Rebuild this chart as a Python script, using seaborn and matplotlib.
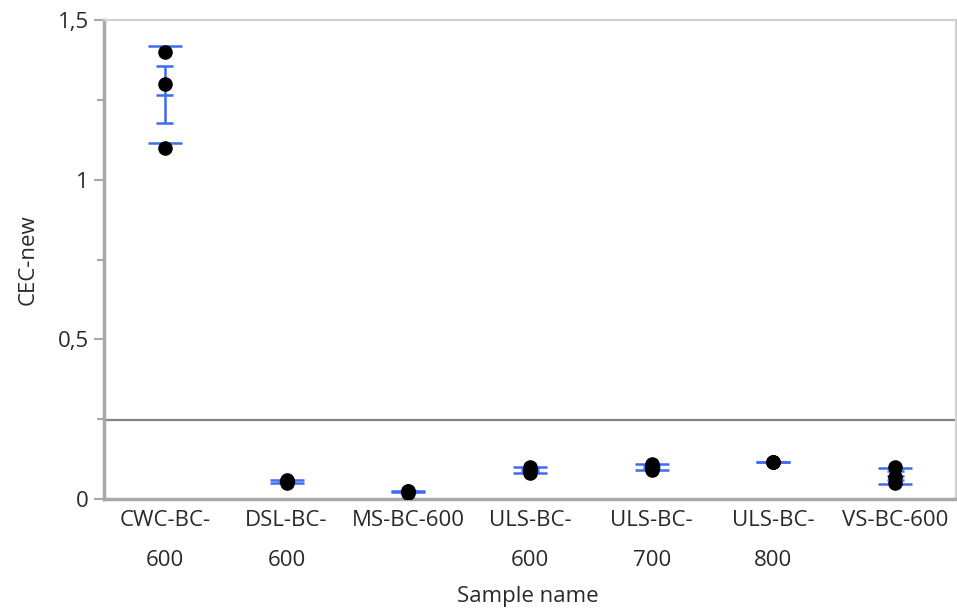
import numpy as np
import pandas as pd
import matplotlib
matplotlib.use("Agg")
import matplotlib.pyplot as plt
import seaborn as sns

categories = ["CWC-BC-600", "DSL-BC-600", "MS-BC-600", "ULS-BC-600",
              "ULS-BC-700", "ULS-BC-800", "VS-BC-600"]
tick_labels = ["CWC-BC-\n600", "DSL-BC-\n600", "MS-BC-600", "ULS-BC-\n600",
               "ULS-BC-\n700", "ULS-BC-\n800", "VS-BC-600"]
cwc = [1.40, 1.30, 1.10]
dsl = [0.050, 0.055, 0.060]
ms = [0.020, 0.025, 0.025]
uls600 = [0.080, 0.090, 0.100]
uls700 = [0.090, 0.100, 0.110]
uls800 = [0.117, 0.117, 0.117]
vs = [0.050, 0.070, 0.100]

groups = [cwc, dsl, ms, uls600, uls700, uls800, vs]
rows = []
for c, vals in zip(categories, groups):
    for v in vals:
        rows.append({"Sample name": c, "CEC-new": v})
df = pd.DataFrame(rows)

sns.set_theme(style="white")
plt.rcParams["font.family"] = ["Open Sans", "DejaVu Sans"]

fig = plt.figure(figsize=(9.57, 6.12), dpi=100)
ax = fig.add_axes([104 / 957, 1 - 499 / 612, (956 - 104) / 957, (499 - 20) / 612])

blue = "#3d6cf0"
stats = df.groupby("Sample name", sort=False)["CEC-new"].agg(["mean", "std", "count"])
stats = stats.reindex(categories)
stats["std"] = stats["std"].fillna(0)
stats["se"] = stats["std"] / np.sqrt(stats["count"])

x = np.arange(len(categories))
hw = 0.14
for i, (m, sd, se) in enumerate(zip(stats["mean"], stats["std"], stats["se"])):
    # std dev lines
    ax.hlines([m - sd, m + sd], i - hw, i + hw, color=blue, lw=1.8, zorder=2)
    # mean error bar
    ax.vlines(i, m - se, m + se, color=blue, lw=1.8, zorder=2)
    ax.hlines([m - se, m, m + se], i - hw * 0.5, i + hw * 0.5, color=blue, lw=1.8, zorder=2)

# grand mean line
ax.axhline(df["CEC-new"].mean(), color="#858585", lw=1.6, zorder=1)

sns.stripplot(data=df, x="Sample name", y="CEC-new", order=categories,
              jitter=False, color="black", size=10.5, ax=ax, zorder=3)

ax.set_xlim(-0.5, len(categories) - 0.5)
ax.set_ylim(0, 1.5)
ax.set_yticks([0, 0.5, 1.0, 1.5])
ax.set_yticklabels(["0", "0,5", "1", "1,5"])
ax.set_yticks([0.25, 0.75, 1.25], minor=True)
ax.set_xticks(x)
ax.set_xticklabels(tick_labels, linespacing=2.2)
ax.set_xticks(np.arange(len(categories) + 1) - 0.5, minor=True)

text_col = "#2a2a2a"
fs = 16
ax.tick_params(axis="x", which="major", length=0, pad=8, labelsize=fs, labelcolor=text_col)
ax.tick_params(axis="x", which="minor", length=9, width=2, color="#a8a8a8", direction="out")
ax.tick_params(axis="y", which="major", length=7, width=1.5, color="#a8a8a8",
               labelsize=fs, labelcolor=text_col, left=True, direction="out", pad=4)
ax.tick_params(axis="y", which="minor", length=5, width=1.5, color="#a8a8a8", left=True, direction="out")

for s in ["left", "bottom"]:
    ax.spines[s].set_color("#a8a8a8")
    ax.spines[s].set_linewidth(2.5)
for s in ["top", "right"]:
    ax.spines[s].set_color("#d0d0d0")
    ax.spines[s].set_linewidth(1.5)

ax.set_xlabel("Sample name", fontsize=fs, color=text_col)
ax.set_ylabel("CEC-new", fontsize=fs, color=text_col)
ax.xaxis.set_label_coords((528 - 104) / 852, (499 - 586) / 479)
ax.yaxis.set_label_coords((39 - 104) / 852, 0.5)

fig.savefig("out.png", dpi=100)
